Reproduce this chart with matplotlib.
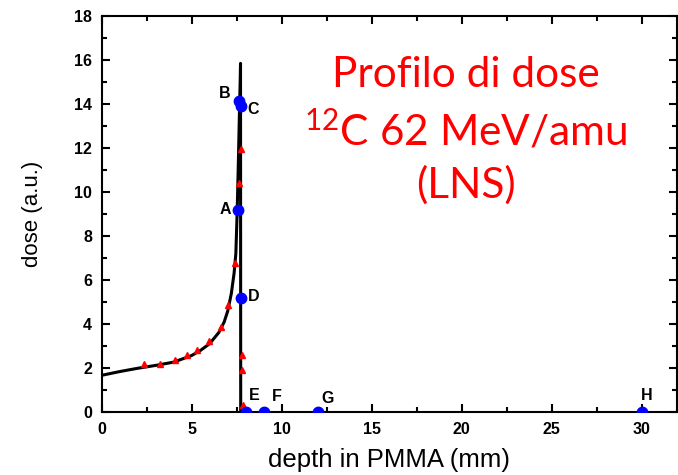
import numpy as np
import matplotlib
matplotlib.use("Agg")
import matplotlib.pyplot as plt
from matplotlib.ticker import MultipleLocator

plt.rcParams["font.family"] = "Liberation Sans"
plt.rcParams["mathtext.fontset"] = "custom"
plt.rcParams["mathtext.rm"] = "Lato"

# simulated dose curve (black line)
curve_depth = [0.0, 1.0, 2.0, 3.0, 4.0, 5.0, 5.5, 6.0, 6.5, 6.8, 7.0, 7.2,
               7.35, 7.45, 7.52, 7.58, 7.62, 7.66, 7.69, 7.71, 7.72]
curve_dose = [1.68, 1.85, 2.0, 2.13, 2.28, 2.58, 2.82, 3.12, 3.62, 4.1, 4.6, 5.4,
              6.3, 7.2, 9.0, 11.0, 12.5, 14.0, 15.0, 15.85, 0.0]

# measured points (red triangles)
meas_depth = [2.35, 3.24, 4.07, 4.75, 5.27, 5.95, 6.60, 7.03, 7.43, 7.64, 7.74, 7.80, 7.80, 7.85]
meas_dose = [2.18, 2.21, 2.39, 2.59, 2.82, 3.24, 3.88, 4.86, 6.76, 10.42, 11.95, 2.59, 1.94, 0.32]

# irradiation positions (blue circles)
pos_names = ["A", "B", "C", "D", "E", "F", "G", "H"]
pos_depth = [7.56, 7.65, 7.74, 7.74, 8.02, 9.04, 12.03, 30.0]
pos_dose = [9.18, 14.14, 13.9, 5.21, 0.0, 0.0, 0.0, 0.0]
label_x = [6.87, 6.85, 8.42, 8.42, 8.50, 9.74, 12.54, 30.24]
label_y = [9.21, 14.49, 13.77, 5.24, 0.78, 0.71, 0.61, 0.75]

fig = plt.figure(figsize=(6.78, 4.75), dpi=100)
ax = fig.add_axes([0.15, 0.132, 0.8485, 0.8343])

ax.plot(curve_depth, curve_dose, color="black", linewidth=2.2, zorder=2)
ax.plot(meas_depth, meas_dose, linestyle="none", marker="^", color="red",
        markersize=4.5, zorder=3)
ax.plot(pos_depth, pos_dose, linestyle="none", marker="o", color="blue",
        markersize=7.5, zorder=4)
for name, lx, ly in zip(pos_names, label_x, label_y):
    ax.text(lx, ly, name, ha="center", va="center", fontsize=11.5,
            fontweight="bold", zorder=5)

ax.set_xlim(0, 31.95)
ax.set_ylim(0, 18)
ax.xaxis.set_major_locator(MultipleLocator(5))
ax.xaxis.set_minor_locator(MultipleLocator(2.5))
ax.yaxis.set_major_locator(MultipleLocator(2))
ax.yaxis.set_minor_locator(MultipleLocator(1))
ax.tick_params(which="both", direction="in", top=True, right=True, width=1.5)
ax.tick_params(which="major", length=6, pad=7, labelsize=11.5)
ax.tick_params(which="minor", length=3.5)
for lab in ax.get_xticklabels() + ax.get_yticklabels():
    lab.set_fontweight("bold")
for sp in ax.spines.values():
    sp.set_linewidth(1.5)

ax.set_xlabel("depth in PMMA (mm)", fontsize=18.5, labelpad=8)
ax.set_ylabel("dose (a.u.)", fontsize=16, labelpad=22)

title_lines = ["Profilo di dose", r"$\mathrm{^{12}}$C 62 MeV/amu", "(LNS)"]
title_base = [86.7, 145.0, 198.0]
for line, yb in zip(title_lines, title_base):
    fig.text(466 / 678, 1 - yb / 475, line, ha="center", va="baseline",
             fontsize=30.5, color="red", family="Lato")

fig.savefig("out.png", dpi=100)
